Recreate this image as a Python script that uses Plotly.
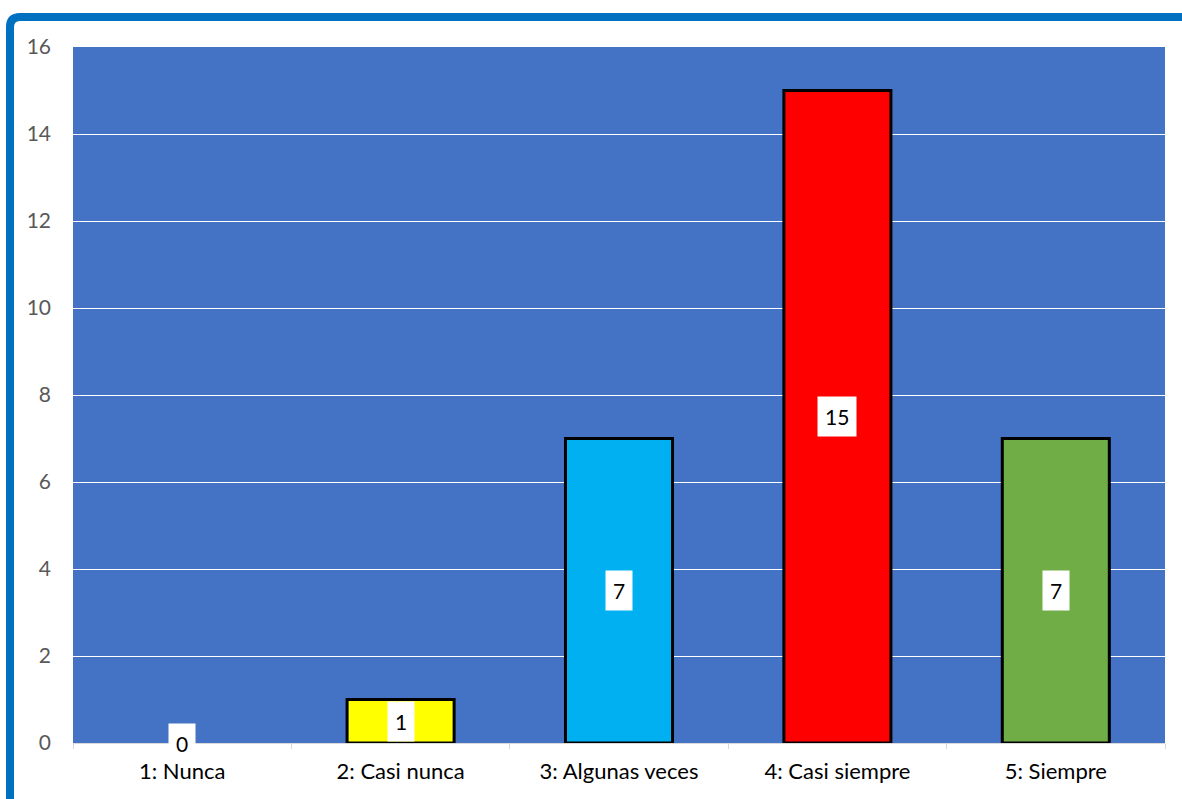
import plotly.graph_objects as go

categories = ["1: Nunca", "2: Casi nunca", "3: Algunas veces", "4: Casi siempre", "5: Siempre"]
counts = [0, 1, 7, 15, 7]
bar_colors = ["#FFFF00", "#FFFF00", "#00B0F0", "#FF0000", "#70AD47"]
y_ticks = [0, 2, 4, 6, 8, 10, 12, 14, 16]

FONT = "Lato, 'Open Sans', sans-serif"
W, H = 1182, 799
ML, MR, MT, MB = 73, 17, 47, 56
PW, PH = W - ML - MR, H - MT - MB


def px_x(p):
    return (p - ML) / PW


def px_y(p):
    return (H - MB - p) / PH


fig = go.Figure()
fig.add_trace(go.Bar(
    x=categories,
    y=counts,
    width=0.49,
    marker=dict(
        color=bar_colors,
        line=dict(color="#000000", width=[3 if v > 0 else 0 for v in counts]),
    ),
    hoverinfo="x+y",
    showlegend=False,
))

# value labels in white boxes at the middle of each bar
annotations = []
for cat, val in zip(categories, counts):
    annotations.append(dict(
        x=cat, y=val / 2, xref="x", yref="y",
        text=str(val), showarrow=False,
        font=dict(family=FONT, size=21, color="#000000"),
        bgcolor="#FFFFFF", borderpad=7,
        xanchor="center", yanchor="middle",
    ))

# outer frame (top and left edges of the chart border)
xl, xr = px_x(10), px_x(1190)
yt, yb = px_y(17), px_y(810)
frame = dict(
    type="path", xref="paper", yref="paper",
    path=f"M {xl} {yb} L {xl} {px_y(27)} Q {xl} {yt} {px_x(20)} {yt} L {xr} {yt}",
    line=dict(color="#0070C0", width=8),
    layer="above",
)

fig.update_layout(
    width=W, height=H,
    margin=dict(l=ML, r=MR, t=MT, b=MB),
    paper_bgcolor="#FFFFFF",
    plot_bgcolor="#4472C4",
    font=dict(family=FONT),
    annotations=annotations,
    shapes=[frame],
    bargap=0.5,
    xaxis=dict(
        type="category",
        showgrid=False,
        showline=True, linecolor="#D9D9D9", linewidth=1,
        ticks="outside", tickson="boundaries", ticklen=5, tickcolor="#D9D9D9",
        ticklabelstandoff=9,
        tickfont=dict(family=FONT, size=22, color="#000000"),
        fixedrange=True,
    ),
    yaxis=dict(
        range=[0, 16],
        tickvals=y_ticks,
        showgrid=True, gridcolor="#FFFFFF", gridwidth=1,
        zeroline=False,
        ticks="", ticklabelstandoff=21,
        tickfont=dict(family=FONT, size=21, color="#595959"),
        fixedrange=True,
    ),
)

fig.write_html("out.html")
